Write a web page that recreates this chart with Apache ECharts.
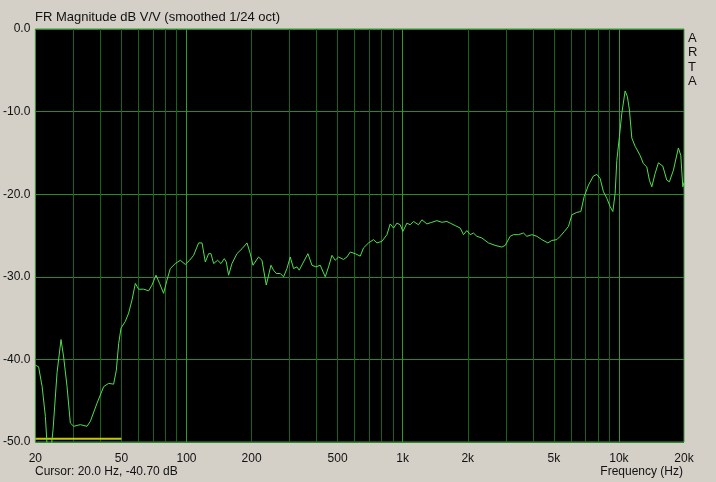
<!DOCTYPE html>
<html>
<head>
<meta charset="utf-8">
<script src="https://cdn.jsdelivr.net/npm/echarts@6/dist/echarts.min.js"></script>
<style>
html,body{margin:0;padding:0;background:#d4d0c8;}
#c{width:716px;height:482px;}
</style>
</head>
<body>
<div id="c"></div>
<script>
const freqHz = [20,20.7,21.5,22.25,22.65,23.3,24.15,25.2,26.29,27.03,28.03,29.03,30.07,32.29,34.68,35.92,38.58,41.39,43.63,46.03,47.38,48.56,49.81,52.14,54.0,55.99,58.0,60.07,63.35,66.81,69.27,72.28,75.1,78.37,81.26,84.16,88.77,93.63,98.74,103.4,107.9,113.8,118.0,122.2,126.6,129.8,133.5,139.3,144.4,149.6,152.8,156.6,162.3,171.2,180.6,190.5,197.3,203.0,215.5,223.4,233.9,245.9,252.8,260.2,271.5,281.2,291.6,301.9,312.7,324.2,332.3,347.8,364.5,380.4,397.0,415.6,438.3,454.0,470.8,487.5,505.0,532.6,552.2,571.9,603.2,636.2,659.0,695.1,733.1,760.1,801.6,845.5,875.7,907.0,940.4,974.0,1002,1046,1083,1122,1143,1183,1227,1294,1365,1440,1518,1601,1658,1749,1845,1911,1981,2052,2125,2203,2324,2493,2677,2875,2978,3141,3253,3431,3618,3751,3957,4174,4402,4692,4896,5164,5349,5600,5844,6059,6390,6668,6906,7230,7625,7906,8188,8481,8793,9107,9373,9606,9781,10055,10315,10684,10948,11184,11473,11883,12532,12980,13458,13836,14194,14701,15227,15958,16653,17120,17865,18840,19327,19743,20000];
const magDb = [-40.7,-40.9,-43.3,-46.9,-50.3,-52.5,-48.5,-41.6,-37.6,-39.7,-43.3,-47.7,-48.1,-47.9,-48.1,-47.5,-45.3,-43.3,-42.9,-43.0,-41.3,-38.1,-36.2,-35.4,-34.4,-32.8,-30.8,-31.5,-31.5,-31.7,-31.0,-29.8,-30.8,-32.0,-30.4,-29.0,-28.4,-28.0,-28.5,-28.0,-27.4,-25.9,-25.9,-28.2,-27.2,-27.2,-28.4,-28.0,-28.4,-27.8,-28.2,-29.8,-28.4,-27.2,-26.6,-25.9,-27.2,-28.6,-27.6,-28.0,-31.0,-28.6,-29.2,-29.6,-29.6,-30.0,-29.0,-27.6,-29.0,-28.8,-29.2,-28.2,-27.2,-28.6,-28.8,-28.6,-30.0,-28.8,-27.4,-28.0,-27.6,-27.9,-27.6,-27.0,-27.2,-27.5,-26.5,-25.9,-25.5,-25.9,-25.7,-24.9,-23.6,-24.1,-23.5,-23.7,-24.5,-23.5,-23.7,-23.3,-23.3,-23.7,-23.1,-23.6,-23.4,-23.2,-23.4,-23.3,-23.5,-23.8,-24.1,-24.9,-24.4,-24.9,-24.7,-25.1,-25.3,-25.9,-26.2,-26.4,-26.2,-25.1,-24.9,-24.9,-24.7,-25.1,-24.9,-25.1,-25.5,-25.9,-25.6,-25.5,-25.1,-24.5,-23.9,-22.5,-22.2,-22.1,-20.3,-18.9,-17.8,-17.6,-18.1,-19.7,-20.5,-21.5,-22.1,-19.9,-15.9,-13.0,-10.2,-7.5,-8.2,-9.8,-13.2,-14.2,-15.3,-16.3,-16.7,-18.3,-19.1,-17.5,-16.2,-16.6,-18.3,-18.5,-17.1,-14.4,-15.3,-19.1,-18.6];
const labelFreqs = [20,50,100,200,500,1000,2000,5000,10000,20000];
const majorFreqs = [100,1000,10000];
const minorFreqs = [30,40,50,60,70,80,90,200,300,400,500,600,700,800,900,2000,3000,4000,5000,6000,7000,8000,9000];
const markerFreqs = [20,50];
const markerDb = [-49.6,-49.6];
const titleText = 'FR Magnitude dB V/V (smoothed 1/24 oct)';
const cursorText = 'Cursor: 20.0 Hz, -40.70 dB';
const xName = 'Frequency (Hz)';
const brand = 'A\nR\nT\nA';

const chart = echarts.init(document.getElementById('c'), null, {renderer:'canvas'});
const font = 'Liberation Sans, Arial, sans-serif';
const baseX = {
  type:'log', logBase:10, min:20, max:20000, position:'bottom',
  axisLine:{show:false}, axisTick:{show:false}, axisLabel:{show:false},
  splitLine:{show:false}, minorTick:{show:false}, minorSplitLine:{show:false}
};
chart.setOption({
  backgroundColor:'#d4d0c8',
  animation:false,
  textStyle:{fontFamily:font},
  title:[
    {text:titleText, left:35, top:11, padding:0, textStyle:{fontSize:13, fontWeight:'normal', color:'#111', fontFamily:font}},
    {text:cursorText, left:35, top:466, padding:0, textStyle:{fontSize:12, fontWeight:'normal', color:'#111', fontFamily:font}},
    {text:xName, right:33, top:466, padding:0, textStyle:{fontSize:12, fontWeight:'normal', color:'#111', fontFamily:font}},
    {text:brand, left:688, top:31, padding:0, textStyle:{fontSize:13, fontWeight:'normal', color:'#111', lineHeight:14.5, fontFamily:font}}
  ],
  grid:{left:35, top:29, right:32, bottom:40, show:true, backgroundColor:'#000', borderColor:'#3d9b3d', borderWidth:1},
  xAxis:[
    Object.assign({}, baseX, {
      axisTick:{show:false, customValues:minorFreqs},
      splitLine:{show:true, lineStyle:{color:'#1a641a', width:1}}
    }),
    Object.assign({}, baseX, {
      axisTick:{show:false, customValues:majorFreqs},
      splitLine:{show:true, lineStyle:{color:'#2f9a2f', width:1}}
    }),
    Object.assign({}, baseX, {
      axisLabel:{show:true, customValues:labelFreqs, margin:11, color:'#111', fontSize:12, fontFamily:font,
        formatter:function(v){ return v>=1000 ? (v/1000)+'k' : String(v); }},
      axisTick:{show:false, customValues:labelFreqs}
    })
  ],
  yAxis:{
    type:'value', min:-50, max:0, interval:10,
    axisLine:{show:false}, axisTick:{show:false},
    axisLabel:{margin:5, color:'#111', fontSize:12, fontFamily:font, formatter:function(v){return v.toFixed(1);}},
    splitLine:{show:true, lineStyle:{color:'#2a8a2a', width:1}}
  },
  series:[
    {type:'line', xAxisIndex:0, data:freqHz.map((f,i)=>[f,magDb[i]]), showSymbol:false, symbol:'none',
     lineStyle:{color:'#4ee04e', width:1}, clip:true, z:5},
    {type:'line', xAxisIndex:0, data:markerFreqs.map((f,i)=>[f,markerDb[i]]), showSymbol:false, symbol:'none',
     lineStyle:{color:'#c8c800', width:2}, clip:true, z:4}
  ]
});
</script>
</body>
</html>
